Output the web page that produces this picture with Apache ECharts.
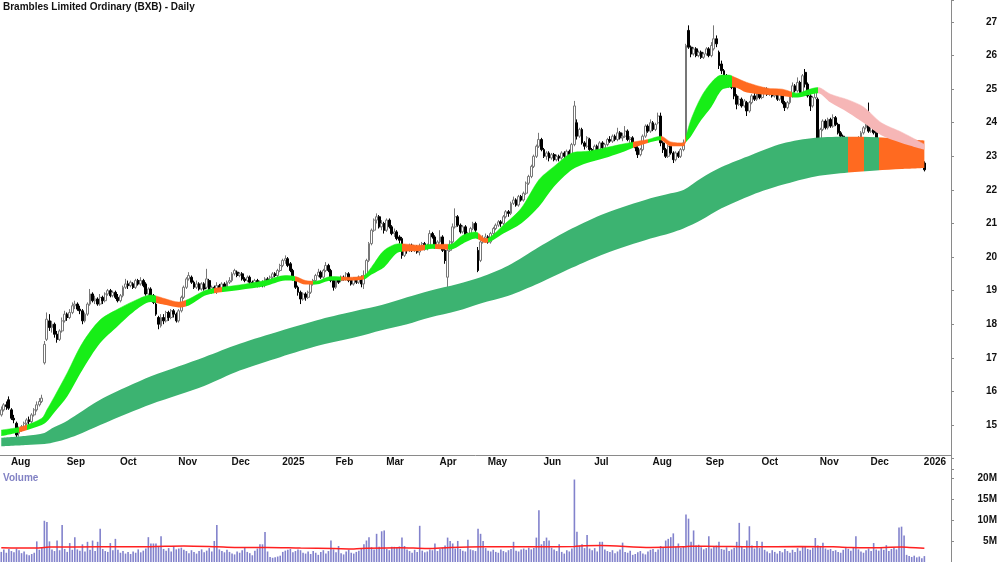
<!DOCTYPE html>
<html>
<head>
<meta charset="utf-8">
<title>BXB Daily</title>
<script src="https://cdn.jsdelivr.net/npm/echarts@6/dist/echarts.min.js"></script>
<style>
  html, body { margin: 0; padding: 0; background: #fff; }
  #chart { width: 1000px; height: 562px; }
</style>
</head>
<body>
<div id="chart"></div>
<script>
// month labels: [trading day index, label]
const monthTicks = [[3,'Aug'],[25,'Sep'],[46,'Oct'],[69,'Nov'],[90,'Dec'],[110,'2025'],[131,'Feb'],[151,'Mar'],[172,'Apr'],[191,'May'],[213,'Jun'],[233,'Jul'],[256,'Aug'],[277,'Sep'],[299,'Oct'],[322,'Nov'],[342,'Dec'],[363,'2026']];
const slotCount = 375;

// daily candles [open, close, low, high]
const candles = [
[15.30,15.45,15.25,15.55],[15.45,15.60,15.40,15.65],[15.60,15.55,15.45,15.70],[15.75,15.50,15.45,15.85],[15.45,15.20,15.15,15.50],
[15.20,15.15,15.05,15.30],[15.05,14.70,14.50,15.10],[14.75,14.85,14.65,14.95],[14.85,14.95,14.80,15.00],[14.95,15.05,14.90,15.10],
[15.05,15.15,15.00,15.20],[15.15,15.10,15.00,15.25],[15.10,15.30,15.05,15.35],[15.30,15.45,15.25,15.50],[15.45,15.60,15.40,15.70],
[15.60,15.70,15.55,15.80],[15.70,15.80,15.65,15.90],[16.85,17.40,16.80,17.50],[17.55,18.15,17.50,18.35],[18.10,17.90,17.80,18.30],
[17.90,18.00,17.75,18.10],[18.00,17.70,17.60,18.05],[17.70,17.55,17.45,17.80],[17.55,17.80,17.50,17.85],[17.80,18.10,17.75,18.20],
[18.10,18.30,18.05,18.40],[18.30,18.20,18.10,18.35],[18.20,18.35,18.15,18.45],[18.35,18.55,18.30,18.65],[18.55,18.60,18.45,18.70],
[18.60,18.45,18.40,18.65],[18.45,18.40,18.30,18.55],[18.40,18.10,18.00,18.45],[18.10,18.30,18.05,18.35],[18.30,18.60,18.25,18.65],
[18.60,18.90,18.55,19.05],[18.90,18.70,18.65,18.95],[18.70,18.75,18.60,18.85],[18.75,18.60,18.55,18.80],[18.60,18.80,18.55,18.90],
[18.80,18.70,18.60,18.85],[18.70,18.90,18.65,18.95],[18.90,19.00,18.85,19.05],[19.00,18.85,18.80,19.05],[18.85,18.95,18.80,19.00],
[18.95,18.80,18.75,19.00],[18.80,18.70,18.65,18.90],[18.70,18.85,18.65,18.90],[18.85,19.10,18.80,19.15],[19.10,19.20,19.05,19.35],
[19.20,19.15,19.05,19.30],[19.15,19.25,19.10,19.30],[19.20,19.10,19.05,19.25],[19.10,19.30,19.05,19.35],[19.30,19.20,19.15,19.35],
[19.20,19.30,19.15,19.40],[19.30,19.15,19.10,19.35],[19.20,18.90,18.85,19.25],[18.90,19.05,18.80,19.10],[19.05,18.85,18.80,19.10],
[18.85,18.65,18.60,18.90],[18.60,18.30,18.25,18.65],[18.20,18.00,17.85,18.25],[17.95,18.20,17.90,18.30],[18.20,18.10,18.00,18.30],
[18.10,18.35,18.05,18.40],[18.35,18.20,18.10,18.40],[18.20,18.40,18.15,18.45],[18.40,18.30,18.20,18.45],[18.30,18.10,18.05,18.35],
[18.10,18.40,18.05,18.45],[18.40,18.80,18.35,18.85],[18.80,19.10,18.75,19.15],[19.10,19.35,19.05,19.40],[19.35,19.45,19.30,19.55],
[19.40,19.25,19.20,19.45],[19.25,19.10,19.05,19.30],[19.10,19.20,19.05,19.30],[19.20,19.05,19.00,19.25],[19.05,19.20,19.00,19.25],
[19.20,19.05,19.00,19.25],[19.10,19.35,19.05,19.65],[19.30,18.95,18.90,19.35],[18.95,19.10,18.90,19.15],[19.10,19.00,18.95,19.15],
[19.00,19.15,18.90,19.25],[19.15,19.05,19.00,19.20],[19.05,19.20,19.00,19.25],[19.20,19.10,19.05,19.25],[19.10,19.25,19.05,19.30],
[19.25,19.30,19.20,19.40],[19.30,19.50,19.25,19.55],[19.50,19.60,19.45,19.65],[19.55,19.45,19.40,19.60],[19.45,19.50,19.40,19.55],
[19.50,19.35,19.30,19.55],[19.35,19.30,19.25,19.40],[19.30,19.40,19.25,19.45],[19.40,19.25,19.20,19.45],[19.25,19.20,19.10,19.30],
[19.20,19.30,19.15,19.35],[19.30,19.15,19.10,19.35],[19.15,19.25,19.10,19.30],[19.25,19.20,19.10,19.30],[19.20,19.35,19.10,19.40],
[19.35,19.25,19.20,19.40],[19.25,19.40,19.20,19.45],[19.40,19.50,19.35,19.55],[19.50,19.45,19.40,19.55],[19.45,19.60,19.40,19.65],
[19.60,19.75,19.55,19.80],[19.75,19.90,19.70,19.95],[19.90,19.95,19.80,20.05],[19.95,19.75,19.70,20.00],[19.80,19.60,19.55,19.85],
[19.60,19.35,19.30,19.65],[19.35,19.10,19.05,19.40],[19.10,18.95,18.85,19.15],[18.95,18.75,18.60,19.00],[18.75,18.90,18.70,18.95],
[18.90,18.80,18.70,18.95],[18.80,18.95,18.75,19.00],[18.95,19.20,18.90,19.25],[19.20,19.30,19.15,19.35],[19.30,19.45,19.25,19.50],
[19.45,19.55,19.40,19.65],[19.55,19.40,19.35,19.60],[19.40,19.60,19.35,19.65],[19.60,19.75,19.55,19.85],[19.75,19.60,19.55,19.80],
[19.60,19.30,19.25,19.65],[19.30,19.10,19.00,19.35],[19.10,19.35,19.05,19.40],[19.35,19.25,19.20,19.40],[19.30,19.40,19.25,19.45],
[19.40,19.35,19.30,19.45],[19.35,19.50,19.30,19.55],[19.50,19.30,19.25,19.55],[19.30,19.20,19.15,19.35],[19.20,19.35,19.15,19.40],
[19.35,19.25,19.20,19.40],[19.25,19.40,19.20,19.45],[19.40,19.20,19.10,19.45],[19.20,19.45,19.05,19.60],[19.45,19.90,19.40,19.95],
[19.90,20.40,19.85,20.45],[20.40,20.80,20.35,20.85],[20.80,21.10,20.75,21.15],[21.10,21.20,21.00,21.30],[21.20,20.90,20.85,21.25],
[20.90,21.00,20.80,21.10],[21.00,20.80,20.70,21.05],[20.80,21.10,20.75,21.15],[21.10,20.90,20.85,21.15],[20.90,20.70,20.65,20.95],
[20.70,20.75,20.60,20.85],[20.75,20.55,20.50,20.80],[20.60,20.50,20.40,20.65],[20.55,20.05,19.95,20.60],[20.05,20.25,20.00,20.30],
[20.25,20.20,20.10,20.30],[20.20,20.35,20.15,20.40],[20.35,20.20,20.15,20.40],[20.20,20.30,20.15,20.35],[20.30,20.15,20.10,20.35],
[20.15,20.30,20.05,20.40],[20.30,20.40,20.25,20.45],[20.40,20.25,20.20,20.45],[20.25,20.35,20.20,20.40],[20.35,20.70,20.30,20.80],
[20.70,20.60,20.55,20.75],[20.60,20.30,20.25,20.65],[20.30,20.45,20.25,20.50],[20.45,20.60,20.40,20.80],[20.60,20.20,20.15,20.65],
[20.20,19.90,19.80,20.25],[19.40,20.20,19.10,20.30],[20.20,20.45,20.15,20.50],[20.45,20.90,20.40,21.00],[20.90,21.20,20.85,21.45],
[21.20,20.95,20.90,21.25],[20.95,20.75,20.70,21.00],[20.75,20.90,20.70,20.95],[20.90,20.60,20.55,20.95],[20.60,20.70,20.50,20.75],
[20.70,20.85,20.65,20.90],[20.85,21.00,20.80,21.05],[21.00,20.80,20.75,21.05],[20.20,19.60,19.55,20.30],[19.90,20.45,19.85,20.50],
[20.45,20.55,20.40,20.65],[20.55,20.60,20.45,20.70],[20.60,20.45,20.40,20.65],[20.45,20.70,20.40,20.75],[20.70,20.85,20.65,20.90],
[20.85,20.95,20.80,21.00],[20.95,21.05,20.90,21.10],[21.05,21.00,20.90,21.10],[21.00,21.20,20.95,21.25],[21.20,21.35,21.15,21.40],
[21.35,21.30,21.20,21.40],[21.30,21.60,21.25,21.65],[21.60,21.70,21.55,21.80],[21.70,21.55,21.50,21.75],[21.55,21.80,21.50,21.85],
[21.80,21.70,21.65,21.85],[21.70,21.90,21.65,21.95],[21.90,22.20,21.85,22.25],[22.20,22.40,22.15,22.45],[22.40,22.70,22.35,22.75],
[22.70,23.00,22.65,23.05],[23.00,23.30,22.95,23.35],[23.30,23.50,23.25,23.70],[23.50,23.20,23.15,23.55],[23.20,23.00,22.95,23.25],
[23.00,23.10,22.90,23.15],[23.10,22.95,22.85,23.15],[22.95,23.05,22.90,23.10],[23.05,22.90,22.85,23.10],[22.90,23.00,22.85,23.05],
[23.00,22.95,22.85,23.05],[22.95,23.10,22.90,23.15],[23.10,23.00,22.95,23.15],[23.00,23.15,22.95,23.20],[23.15,23.05,23.00,23.20],
[23.05,23.35,23.00,23.40],[23.35,24.50,23.30,24.65],[24.00,23.60,23.50,24.10],[23.60,23.80,23.55,23.85],[23.80,23.40,23.35,23.85],
[23.40,23.30,23.20,23.45],[23.30,23.55,23.25,23.60],[23.50,23.20,23.15,23.55],[23.20,23.10,23.05,23.25],[23.10,23.30,23.05,23.35],
[23.30,23.20,23.15,23.35],[23.20,23.40,23.15,23.45],[23.40,23.25,23.20,23.45],[23.25,23.35,23.20,23.40],[23.35,23.50,23.30,23.55],
[23.50,23.45,23.40,23.60],[23.45,23.60,23.40,23.65],[23.60,23.50,23.45,23.65],[23.50,23.70,23.45,23.85],[23.70,23.55,23.50,23.75],
[23.55,23.60,23.45,23.70],[23.60,23.75,23.55,23.90],[23.75,23.50,23.45,23.80],[23.50,23.55,23.40,23.60],[23.55,23.30,23.25,23.60],
[23.30,23.25,23.15,23.35],[23.25,23.05,22.95,23.30],[23.05,23.20,23.00,23.25],[23.20,23.60,23.15,23.65],[23.60,23.90,23.55,23.95],
[23.90,23.75,23.70,23.95],[23.75,24.00,23.70,24.10],[24.00,23.80,23.75,24.05],[23.80,23.95,23.75,24.00],[24.00,24.20,23.95,24.30],
[24.20,23.40,23.30,24.30],[23.40,23.20,23.10,23.45],[23.20,23.00,22.95,23.25],[23.00,23.30,22.95,23.35],[23.30,23.10,23.05,23.35],
[23.10,22.90,22.80,23.15],[22.90,23.10,22.85,23.15],[23.10,23.00,22.95,23.15],[23.00,23.20,22.95,23.25],[23.20,23.40,23.15,23.50],
[23.50,26.30,23.45,26.35],[26.75,26.25,26.20,26.90],[26.25,26.05,25.95,26.30],[26.05,26.20,26.00,26.25],[26.20,26.00,25.95,26.25],
[26.00,26.10,25.95,26.15],[26.10,25.95,25.90,26.15],[25.95,26.05,25.90,26.10],[26.05,26.20,26.00,26.25],[26.20,26.00,25.95,26.25],
[26.00,26.30,25.95,26.40],[26.20,26.50,26.15,26.90],[26.50,26.35,26.25,26.60],[26.10,25.70,25.60,26.15],[25.75,25.55,25.45,25.85],
[25.55,25.40,25.30,25.60],[25.40,25.30,25.20,25.45],[25.35,25.15,25.05,25.40],[25.20,25.05,25.00,25.25],[25.05,24.80,24.70,25.10],
[24.80,24.55,24.40,24.85],[24.55,24.70,24.50,24.80],[24.70,24.50,24.45,24.75],[24.50,24.65,24.45,24.70],[24.60,24.35,24.20,24.65],
[24.35,24.60,24.30,24.65],[24.60,24.80,24.55,24.85],[24.80,24.70,24.65,24.90],[24.70,24.90,24.65,24.95],[24.90,24.75,24.70,24.95],
[24.75,24.90,24.70,25.00],[24.90,25.00,24.85,25.05],[25.00,24.85,24.80,25.05],[24.85,24.95,24.80,25.00],[24.95,24.80,24.75,25.00],
[24.80,24.90,24.75,24.95],[24.90,24.70,24.65,24.95],[24.70,24.85,24.65,24.90],[24.85,24.60,24.55,24.90],[24.60,24.45,24.35,24.65],
[24.45,24.60,24.40,24.65],[24.60,24.80,24.55,24.85],[24.80,25.10,24.75,25.20],[25.10,24.95,24.90,25.15],[24.95,25.20,24.90,25.35],
[25.20,24.90,24.85,25.25],[24.90,25.40,24.85,25.45],[25.50,25.15,25.05,25.60],[25.15,24.80,24.75,25.20],[24.80,24.50,24.35,24.85],
[24.50,24.75,24.45,24.80],[24.75,24.95,24.70,25.00],[24.70,23.50,23.40,24.75],[23.50,23.80,23.45,23.85],[23.80,24.05,23.75,24.10],
[24.05,23.85,23.80,24.10],[23.85,24.10,23.80,24.15],[24.10,23.90,23.85,24.15],[23.90,24.15,23.85,24.25],[24.15,23.95,23.90,24.20],
[23.95,23.70,23.65,24.00],[23.70,23.60,23.50,23.75],[23.60,23.45,23.40,23.65],[23.45,23.35,23.25,23.50],[23.35,23.20,23.10,23.40],
[23.20,23.40,23.15,23.45],[23.40,23.25,23.20,23.45],[23.25,23.10,23.05,23.30],[23.10,23.55,23.05,23.60],[23.55,23.70,23.50,23.75],
[23.70,23.85,23.65,23.90],[23.85,24.00,23.80,24.05],[24.30,23.75,23.70,24.60],[23.75,24.00,23.70,24.05],[24.00,23.70,23.65,24.05],
[23.70,23.45,23.40,23.75],[23.45,23.10,23.05,23.50],[23.10,22.90,22.80,23.15],[22.90,23.05,22.85,23.10],[23.05,22.80,22.75,23.10],
[22.80,23.00,22.75,23.05],[23.00,22.85,22.80,23.05],[22.85,23.10,22.80,23.15],[23.10,22.90,22.85,23.15],[22.90,23.10,22.85,23.15],
[23.10,23.00,22.95,23.15],[23.00,23.20,22.95,23.25],[23.20,23.35,23.15,23.45],[23.35,23.10,23.05,23.40],[23.10,22.95,22.90,23.15],
[22.95,23.10,22.90,23.15],[23.10,22.90,22.85,23.15],[22.90,22.95,22.80,23.00],[22.95,22.80,22.75,23.00],[22.80,22.60,22.55,22.85]
];

// daily volume, millions
const volumes = [
2.4,3.0,2.2,3.1,2.6,2.3,3.2,2.8,2.1,2.5, 1.8,1.6,1.9,2.2,4.9,2.9,3.3,9.8,9.5,4.9,
3.0,2.6,5.1,2.8,8.8,3.1,2.4,4.5,2.9,5.9, 3.0,2.7,4.2,2.5,4.8,2.9,5.1,2.6,4.8,7.9,
3.1,2.6,2.4,4.5,2.8,5.5,2.9,2.2,2.6,2.0, 2.4,1.9,2.5,2.2,3.0,2.3,2.7,3.2,5.9,4.4,
4.4,4.4,3.6,6.1,3.1,2.7,3.3,2.5,3.8,3.0, 3.2,3.4,2.9,2.6,2.1,2.8,2.4,2.0,2.6,3.0,
2.3,2.7,3.3,2.5,5.0,8.8,3.0,2.6,2.3,2.9, 2.4,2.0,1.8,2.5,2.2,2.8,3.5,2.4,2.1,1.6,
2.7,3.2,4.2,4.2,7.1,2.5,1.2,1.0,1.1,1.3, 1.5,2.4,2.7,2.9,3.1,2.3,2.6,3.0,2.8,2.2,
2.0,2.5,1.9,2.6,2.2,1.7,2.4,2.8,2.0,2.6, 5.1,3.0,2.3,3.8,2.1,1.8,2.5,2.9,2.2,2.0,
2.4,2.7,3.3,4.2,5.1,5.9,3.5,3.0,6.7,3.6, 7.3,7.5,3.1,2.8,3.6,3.6,3.5,3.7,5.8,3.8,
3.0,2.6,2.2,2.9,2.4,8.6,2.7,2.3,2.5,3.0, 2.8,4.4,2.6,3.1,3.4,3.9,5.8,5.0,4.4,3.2,
5.0,3.1,2.7,2.5,5.3,3.0,2.8,2.6,7.9,6.7, 5.0,3.3,2.7,2.5,2.9,2.4,2.2,3.0,2.6,2.3,
2.8,3.1,4.8,2.7,2.5,3.0,3.2,2.9,3.4,3.0, 3.3,5.8,12.3,4.2,5.0,5.8,5.1,3.4,3.0,2.6,
4.2,2.4,2.0,2.8,2.5,3.2,19.6,7.2,3.9,4.2, 3.3,6.4,3.2,2.8,3.3,2.5,4.8,4.8,3.0,2.6,
2.4,2.8,2.1,2.5,3.0,4.6,2.4,2.2,2.7,1.7, 1.9,2.3,2.6,2.0,1.8,2.5,2.9,3.1,2.4,3.0,
3.8,3.4,5.1,5.5,5.9,6.8,3.6,4.4,3.4,3.6, 11.3,10.3,4.8,7.5,3.9,4.1,3.5,3.0,3.3,6.1,
3.2,3.6,3.9,4.8,3.1,2.9,3.5,2.6,3.0,3.4, 4.8,9.3,3.6,3.1,5.1,8.5,3.9,3.2,5.0,3.3,
4.8,2.9,2.5,2.1,2.8,2.4,2.0,2.6,2.3,3.1, 2.6,2.2,2.9,2.4,3.3,2.7,3.6,3.8,3.1,2.9,
3.4,5.7,3.9,3.6,4.6,3.2,2.9,3.1,2.6,2.8, 2.4,2.2,2.9,3.3,3.1,2.7,3.4,6.1,3.0,2.5,
2.2,2.8,3.2,2.6,4.5,3.0,2.7,3.3,2.9,4.0, 2.6,3.1,3.5,3.0,8.2,8.4,6.3,1.7,1.4,1.2,
1.5,1.1,1.3,0.9,1.4
];

// volume average line [index, millions]
const volumeAvg = [[0,3.4],[12,3.3],[17,3.45],[19,3.55],[39,3.6],[59,3.65],[72,3.8],[85,3.6],[92,3.45],[105,3.45],[118,3.3],[131,3.2],[139,3.1],[144,3.25],[157,3.4],[168,3.2],[177,3.45],[190,3.6],[197,3.6],[210,3.6],[226,3.7],[230,3.85],[236,3.9],[256,3.45],[269,3.6],[272,3.75],[283,3.7],[296,3.6],[315,3.7],[328,3.6],[335,3.45],[342,3.4],[355,3.55],[358,3.45],[364,3.25]];

// short-term band [index, upper, lower]
const shortBand = [
[0,14.85,14.67],[8,14.95,14.80],[16,15.20,15.00],[18,15.45,15.10],[21,15.85,15.38],[26,16.55,15.85],[32,17.44,16.64],
[39,18.13,17.44],[46,18.45,17.95],[52,18.68,18.36],[59,18.87,18.66],[62,18.82,18.62],[65,18.75,18.57],[70,18.66,18.50],
[74,18.75,18.56],[81,19.02,18.87],[94,19.17,19.02],[104,19.30,19.13],[112,19.45,19.30],[116,19.42,19.28],[120,19.30,19.18],
[124,19.28,19.18],[130,19.42,19.30],[137,19.40,19.30],[143,19.45,19.33],[146,19.70,19.48],[151,20.20,19.70],[157,20.40,20.15],
[165,20.35,20.18],[170,20.38,20.25],[177,20.38,20.22],[182,20.65,20.40],[187,20.75,20.55],[191,20.55,20.42],[198,20.95,20.70],
[205,21.45,21.00],[212,22.30,21.50],[218,22.70,22.10],[225,23.10,22.60],[231,23.15,22.80],[238,23.25,22.95],[244,23.35,23.10],
[251,23.45,23.30],[255,23.50,23.40],[260,23.60,23.48],[264,23.43,23.30],[269,23.40,23.30],[270,23.60,23.42],[272,24.10,23.60],
[276,24.77,24.08],[280,25.20,24.47],[284,25.42,24.97],[287,25.42,25.05],[289,25.36,25.06],[294,25.20,24.90],[302,25.03,24.83],
[308,25.00,24.80],[314,24.88,24.75],[318,24.98,24.82],[322,25.05,24.88],[327,24.85,24.60],[334,24.68,24.30],[340,24.47,24.00],
[347,24.00,23.63],[355,23.72,23.40],[364,23.36,23.20]
];

// long-term band [index, upper, lower]
const longBand = [
[0,14.62,14.36],[10,14.68,14.40],[17,14.76,14.43],[20,14.90,14.47],[25,15.08,14.57],[30,15.32,14.70],[39,15.75,15.00],
[50,16.15,15.35],[59,16.45,15.62],[70,16.75,15.90],[80,17.02,16.16],[94,17.42,16.62],[110,17.80,17.02],[126,18.15,17.38],
[140,18.40,17.62],[150,18.57,17.82],[160,18.80,18.00],[169,19.00,18.20],[180,19.20,18.40],[189,19.40,18.62],[200,19.75,18.85],
[212,20.30,19.22],[225,20.85,19.68],[238,21.30,20.10],[256,21.75,20.55],[264,21.90,20.72],[269,22.00,20.85],[276,22.35,21.10],
[284,22.68,21.45],[296,23.05,21.85],[308,23.38,22.15],[321,23.55,22.40],[334,23.58,22.52],[345,23.57,22.58],[355,23.52,22.62],
[364,23.47,22.65]
];

// band colour changes [from index, state]
const shortStates = [[0,'up'],[7,'down'],[10,'up'],[61,'down'],[73,'up'],[84,'down'],[87,'up'],[116,'down'],[123,'up'],[134,'down'],[143,'up'],[158,'down'],[167,'up'],[171,'down'],[176,'up'],[188,'down'],[192,'up'],[249,'down'],[255,'up'],[260,'down'],[270,'up'],[288,'down'],[312,'up'],[322,'weak']];
const longStates = [[0,'up'],[334,'down'],[340,'up'],[346,'down']];

const FONT = 'Liberation Sans';
const shortColours = { up: '#17ee17', down: '#ff6a20', weak: '#f6b6b6' };
const longColours = { up: '#3cb371', down: '#ff6a20' };

function pieces(states, colours) {
  return states.map((s, k) => ({
    gte: s[0],
    lt: k + 1 < states.length ? states[k + 1][0] : 100000,
    color: colours[s[1]]
  }));
}

const labelAt = {};
monthTicks.forEach(m => { labelAt[m[0]] = m[1]; });
const categories = Array.from({ length: slotCount }, (_, i) => String(i));
const showMonth = (index) => labelAt[index] !== undefined;

const chart = echarts.init(document.getElementById('chart'), null, { renderer: 'canvas' });

// price panel: 27 at y=22, 33.58px per dollar, panel bottom where 14 sits
const unitPx = 33.58;
const priceHeight = 22 + 13 * unitPx;
const priceMax = 27 + 22 / unitPx;

let option = {
  animation: false,
  backgroundColor: '#ffffff',
  title: {
    text: 'Brambles Limited Ordinary (BXB) - Daily',
    left: 3, top: 2, padding: 0,
    textStyle: { fontFamily: FONT, fontSize: 10, fontWeight: 'bold', color: '#111' }
  },
  grid: [
    { left: 0, right: 49, top: 0, height: priceHeight },
    { left: 0, right: 49, top: 469, height: 93 }
  ],
  xAxis: [
    {
      type: 'category', gridIndex: 0, data: categories, boundaryGap: true, offset: 455 - priceHeight,
      axisLine: { lineStyle: { color: '#8a8a8a', width: 1 } },
      axisTick: { interval: showMonth, alignWithLabel: true, length: 3, lineStyle: { color: '#8a8a8a' } },
      axisLabel: {
        interval: showMonth, formatter: (v, i) => labelAt[i] || '',
        align: 'left', margin: 2, padding: [0, 0, 0, 2],
        fontFamily: FONT, fontSize: 10, fontWeight: 'bold', color: '#111'
      },
      splitLine: { show: false }
    },
    {
      type: 'category', gridIndex: 1, data: categories, boundaryGap: true, position: 'top',
      axisLine: { lineStyle: { color: '#8a8a8a', width: 1 } },
      axisTick: { show: false }, axisLabel: { show: false }, splitLine: { show: false }
    }
  ],
  yAxis: [
    {
      type: 'value', gridIndex: 0, position: 'right', min: 14, max: priceMax, interval: 1,
      axisLine: { show: true, lineStyle: { color: '#8a8a8a' } },
      axisTick: { show: true, length: 3, lineStyle: { color: '#8a8a8a' } },
      axisLabel: {
        formatter: v => (v > 14 && v < 28 && Number.isInteger(v)) ? String(v) : '',
        align: 'right', margin: 46,
        fontFamily: FONT, fontSize: 10, fontWeight: 'bold', color: '#111'
      },
      splitLine: { show: false }
    },
    {
      type: 'value', gridIndex: 1, position: 'right', min: 0, max: 22.1, interval: 5,
      axisLine: { show: true, lineStyle: { color: '#8a8a8a' } },
      axisTick: { show: true, length: 3, lineStyle: { color: '#8a8a8a' } },
      axisLabel: {
        formatter: v => (v > 0 && v % 5 === 0) ? v + 'M' : '',
        align: 'right', margin: 46,
        fontFamily: FONT, fontSize: 10, fontWeight: 'bold', color: '#111'
      },
      splitLine: { show: false }
    }
  ],
  visualMap: [
    { type: 'piecewise', show: false, dimension: 0, seriesIndex: 1, pieces: pieces(longStates, longColours) },
    { type: 'piecewise', show: false, dimension: 0, seriesIndex: 3, pieces: pieces(shortStates, shortColours) }
  ],
  graphic: [
    { type: 'line', silent: true, shape: { x1: 951.5, y1: 455, x2: 951.5, y2: 469 }, style: { stroke: '#8a8a8a', lineWidth: 1 } },
    { type: 'text', left: 3, top: 473, silent: true,
      style: { text: 'Volume', fill: '#8282c4', font: 'bold 10px ' + FONT } }
  ],
  series: [
    // long band: invisible base + stacked width
    {
      type: 'line', xAxisIndex: 0, yAxisIndex: 0, stack: 'long', smooth: 0.3, showSymbol: false, silent: true,
      lineStyle: { opacity: 0 },
      data: longBand.map(d => [d[0], d[2]])
    },
    {
      type: 'line', xAxisIndex: 0, yAxisIndex: 0, stack: 'long', smooth: 0.3, showSymbol: false, silent: true,
      lineStyle: { width: 0 }, areaStyle: { opacity: 1 },
      data: longBand.map(d => [d[0], +(d[1] - d[2]).toFixed(3)])
    },
    // short band
    {
      type: 'line', xAxisIndex: 0, yAxisIndex: 0, stack: 'short', smooth: 0.3, showSymbol: false, silent: true,
      lineStyle: { opacity: 0 },
      data: shortBand.map(d => [d[0], d[2]])
    },
    {
      type: 'line', xAxisIndex: 0, yAxisIndex: 0, stack: 'short', smooth: 0.3, showSymbol: false, silent: true,
      lineStyle: { width: 0.5 }, areaStyle: { opacity: 1 },
      data: shortBand.map(d => [d[0], +(d[1] - d[2]).toFixed(3)])
    },
    {
      type: 'candlestick', xAxisIndex: 0, yAxisIndex: 0, barWidth: 2.4, silent: true,
      itemStyle: { color: '#ffffff', color0: '#000000', borderColor: '#777777', borderColor0: '#000000', borderWidth: 1 },
      data: candles
    },
    {
      type: 'bar', xAxisIndex: 1, yAxisIndex: 1, barWidth: 1.6, silent: true,
      itemStyle: { color: '#8282cc' },
      data: volumes
    },
    {
      type: 'line', xAxisIndex: 1, yAxisIndex: 1, smooth: 0.3, showSymbol: false, silent: true,
      lineStyle: { color: '#ff2020', width: 1.5 },
      data: volumeAvg
    }
  ]
};

chart.setOption(option);
</script>
</body>
</html>
